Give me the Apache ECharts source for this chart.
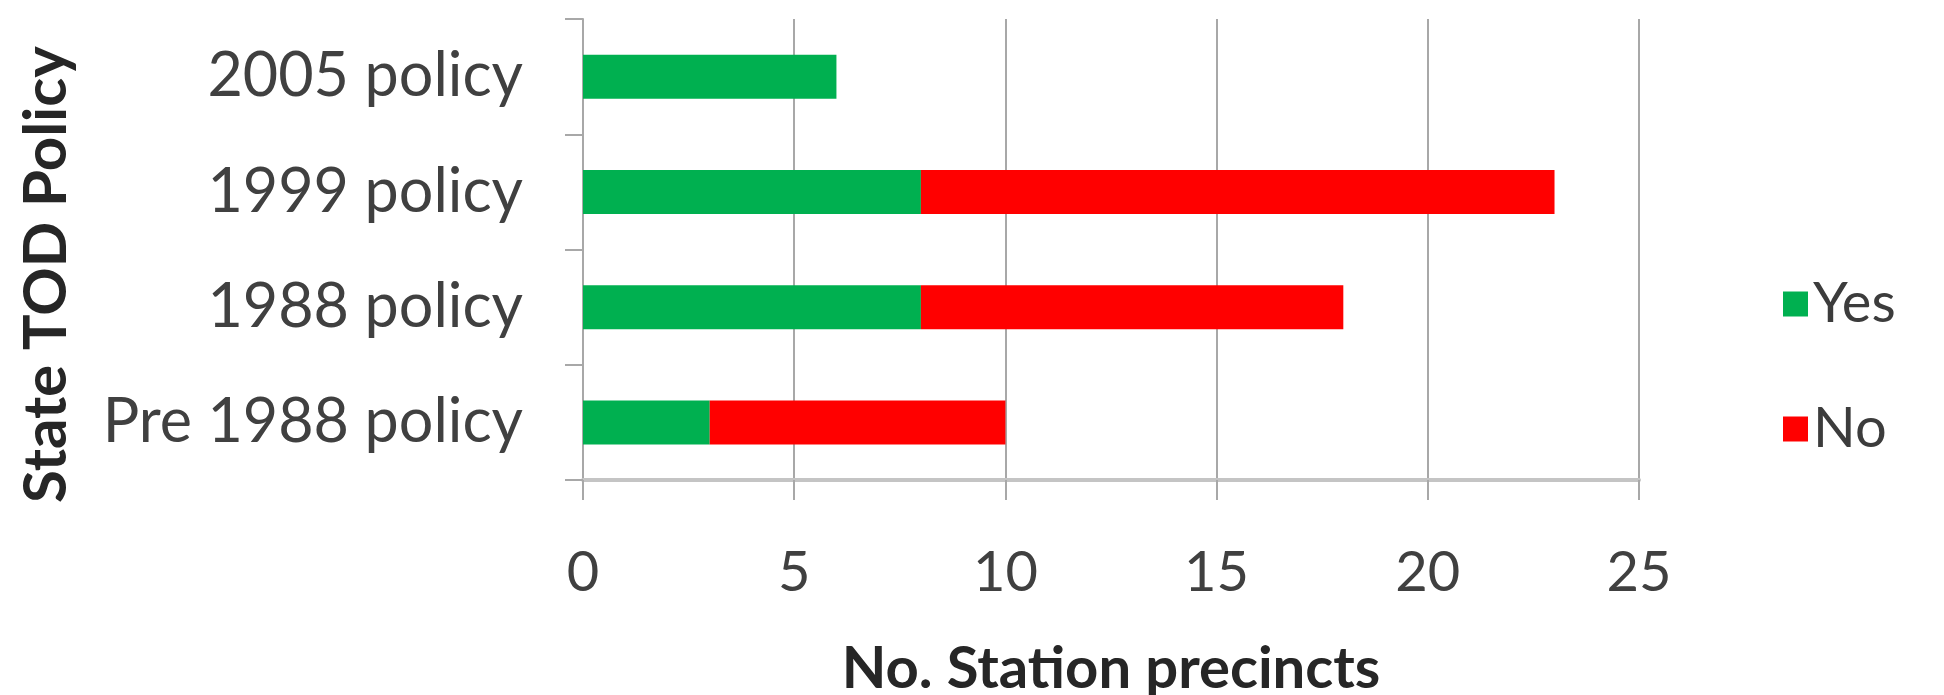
<!DOCTYPE html>
<html>
<head>
<meta charset="utf-8">
<script src="https://cdn.jsdelivr.net/npm/echarts@6/dist/echarts.min.js"></script>
<style>
  html, body { margin: 0; padding: 0; background: #ffffff; }
  #chart { width: 1944px; height: 695px; }
</style>
</head>
<body>
<div id="chart"></div>
<script>
// Station precincts by state TOD policy era
const categories = ['Pre 1988 policy', '1988 policy', '1999 policy', '2005 policy'];
const yesValues = [3, 8, 8, 6];
const noValues = [7, 10, 15, 0];
const xTicks = { min: 0, max: 25, interval: 5 };

const fontFamily = 'Lato, "Open Sans", sans-serif';
const chart = echarts.init(document.getElementById('chart'));

chart.setOption({
  backgroundColor: '#ffffff',
  animation: false,
  grid: {
    left: 583, right: 305, top: 19, bottom: 215,
    containLabel: false,
    outerBoundsMode: 'none'
  },
  legend: {
    orient: 'vertical',
    left: 1778,
    top: 271,
    itemWidth: 25,
    itemHeight: 25,
    itemGap: 69,
    icon: 'rect',
    textStyle: { fontFamily, fontSize: 56, color: '#3c3c3c' },
    data: ['Yes', 'No']
  },
  xAxis: {
    type: 'value',
    min: xTicks.min,
    max: xTicks.max,
    interval: xTicks.interval,
    name: 'No. Station precincts',
    nameLocation: 'middle',
    nameGap: 160,
    nameTextStyle: { fontFamily, fontSize: 58, fontWeight: 'bold', color: '#262626' },
    axisLine: { show: true, lineStyle: { color: '#c4c4c4', width: 4 } },
    axisTick: { show: true, length: 20, lineStyle: { color: '#a8a8a8', width: 2 } },
    axisLabel: { fontFamily, fontSize: 56, color: '#404040', margin: 65 },
    splitLine: { show: true, lineStyle: { color: '#a8a8a8', width: 2 } }
  },
  yAxis: {
    type: 'category',
    data: categories,
    name: 'State TOD Policy',
    nameLocation: 'middle',
    nameGap: 506,
    nameTextStyle: { fontFamily, fontSize: 60, fontWeight: 'bold', color: '#262626', padding: [0, 50, 0, 0] },
    axisLine: { show: true, lineStyle: { color: '#a8a8a8', width: 2 } },
    axisTick: { show: true, length: 18, lineStyle: { color: '#a8a8a8', width: 2 } },
    axisLabel: { fontFamily, fontSize: 61, color: '#404040', margin: 60 },
    splitLine: { show: false }
  },
  series: [
    {
      name: 'Yes',
      type: 'bar',
      stack: 'total',
      data: yesValues,
      barWidth: 44,
      itemStyle: { color: '#00b050' }
    },
    {
      name: 'No',
      type: 'bar',
      stack: 'total',
      data: noValues,
      barWidth: 44,
      itemStyle: { color: '#ff0000' }
    }
  ]
});
</script>
</body>
</html>
